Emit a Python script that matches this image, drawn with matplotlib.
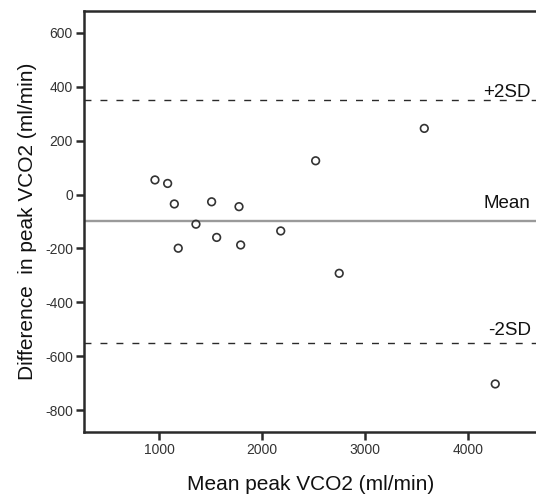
import numpy as np
from matplotlib import pyplot as plt
from matplotlib import transforms

# Bland-Altman data
mean_vco2 = [961, 1084, 1149, 1187, 1359, 1511, 1560, 1777, 1793, 2182, 2521, 2750, 3576, 4265]
diff_vco2 = [54, 41, -35, -199, -110, -27, -159, -45, -187, -135, 125, -292, 245, -702]

mean_diff = -100
upper_lim = 350
lower_lim = -550

x_ticks = [1000, 2000, 3000, 4000]
y_ticks = [600, 400, 200, 0, -200, -400, -600, -800]

plt.rcParams['font.family'] = ['Liberation Sans', 'DejaVu Sans']
plt.rcParams['axes.unicode_minus'] = False

fig = plt.figure(figsize=(5.36, 5.03), dpi=100)
ax = fig.add_axes([84 / 536, 1 - 432 / 503, (538 - 84) / 536, (432 - 11) / 503])

dark = '#2a2a2a'

ax.axhline(upper_lim, color=dark, lw=1.0, ls=(0, (5, 6.5)))
ax.axhline(lower_lim, color=dark, lw=1.0, ls=(0, (5, 6.5)))
ax.axhline(mean_diff, color='#9a9a9a', lw=1.7)

ax.scatter(mean_vco2, diff_vco2, s=30, facecolors='none', edgecolors='#333333', linewidths=1.2, zorder=3)

ax.set_xlim(272, 4680)
ax.set_ylim(-880, 680)
ax.set_xticks(x_ticks)
ax.set_yticks(y_ticks)

for side in ['left', 'bottom', 'top']:
    ax.spines[side].set_linewidth(1.8)
    ax.spines[side].set_color(dark)
ax.spines['right'].set_visible(False)

ax.tick_params(direction='out', length=6, width=1.8, color=dark, labelsize=10, labelcolor='#333333', pad=2)

ax.set_xlabel('Mean peak VCO2 (ml/min)', fontsize=15, color='#111111', labelpad=13)
ax.set_ylabel('Difference  in peak VCO2 (ml/min)', fontsize=15, color='#111111', labelpad=6)

trans = transforms.blended_transform_factory(fig.transFigure, ax.transData)
ax.text(0.99, upper_lim + 11, '+2SD', transform=trans, ha='right', va='baseline', fontsize=13.5, color='#111111')
ax.text(0.99, mean_diff + 50, 'Mean', transform=trans, ha='right', va='baseline', fontsize=13.5, color='#111111')
ax.text(0.99, lower_lim + 30, '-2SD', transform=trans, ha='right', va='baseline', fontsize=13.5, color='#111111')

fig.savefig('out.png', dpi=100)
